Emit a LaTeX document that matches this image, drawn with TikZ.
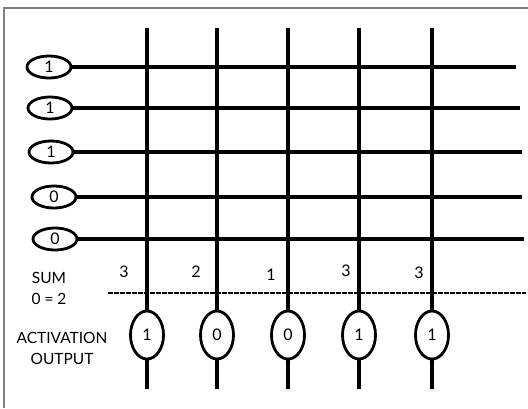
\documentclass[tikz,border=0pt]{standalone}
\usepackage{fontspec}
\setmainfont{Lato}
\usetikzlibrary{shapes.geometric}
\begin{document}
\begin{tikzpicture}[x=1pt,y=-1pt,
  wire/.style={line width=3.6pt},
  inell/.style={ellipse,draw,line width=2.8pt,minimum width=44pt,minimum height=22pt,inner sep=0pt,font=\fontsize{16}{16}\selectfont},
  outell/.style={ellipse,draw,line width=2.8pt,minimum width=33pt,minimum height=48pt,inner sep=0pt,font=\fontsize{16}{16}\selectfont},
  lbl/.style={font=\fontsize{15.5}{21}\selectfont,inner sep=0pt,align=center},
  num/.style={font=\fontsize{16}{16}\selectfont,inner sep=0pt}]
\useasboundingbox (0,0) rectangle (528,408);
\draw[gray,line width=1.2pt] (528,8) -- (4,8) -- (4,408);
% inputs
\node[inell] (i1) at (49,67) {1};
\node[inell] (i2) at (50,108) {1};
\node[inell] (i3) at (51,152) {1};
\node[inell] (i4) at (54,197) {0};
\node[inell] (i5) at (55,239) {0};
\coordinate (e1) at (516,67);
\coordinate (e2) at (520,108);
\coordinate (e3) at (522,152);
\coordinate (e4) at (522,197);
\coordinate (e5) at (524,239);
\foreach \k in {1,...,5} \draw[wire] (i\k.east) -- (e\k);
% outputs
\foreach \k/\x/\v in {1/147/1,2/217/0,3/288/0,4/359/1,5/432/1}{
  \coordinate (t\k) at (\x,28);
  \coordinate (b\k) at (\x,389);
  \node[outell] (o\k) at (\x,335) {\v};
  \draw[wire] (t\k) -- (o\k.north);
  \draw[wire] (o\k.south) -- (b\k);
}
% sums
\node[num] (s1) at (124,272) {3};
\node[num] (s2) at (196,272) {2};
\node[num] (s3) at (271,275) {1};
\node[num] (s4) at (346,271) {3};
\node[num] (s5) at (419,273) {3};
% threshold line
\coordinate (d1) at (108,293);
\coordinate (d2) at (526,293);
\draw[line width=1.6pt,dash pattern=on 5pt off 1pt] (d1) -- (d2);
% labels
\node[lbl] (sum) at (49,288) {SUM\\0 = 2};
\node[lbl] (act) at (62,348) {ACTIVATION\\OUTPUT};
\end{tikzpicture}
\end{document}
